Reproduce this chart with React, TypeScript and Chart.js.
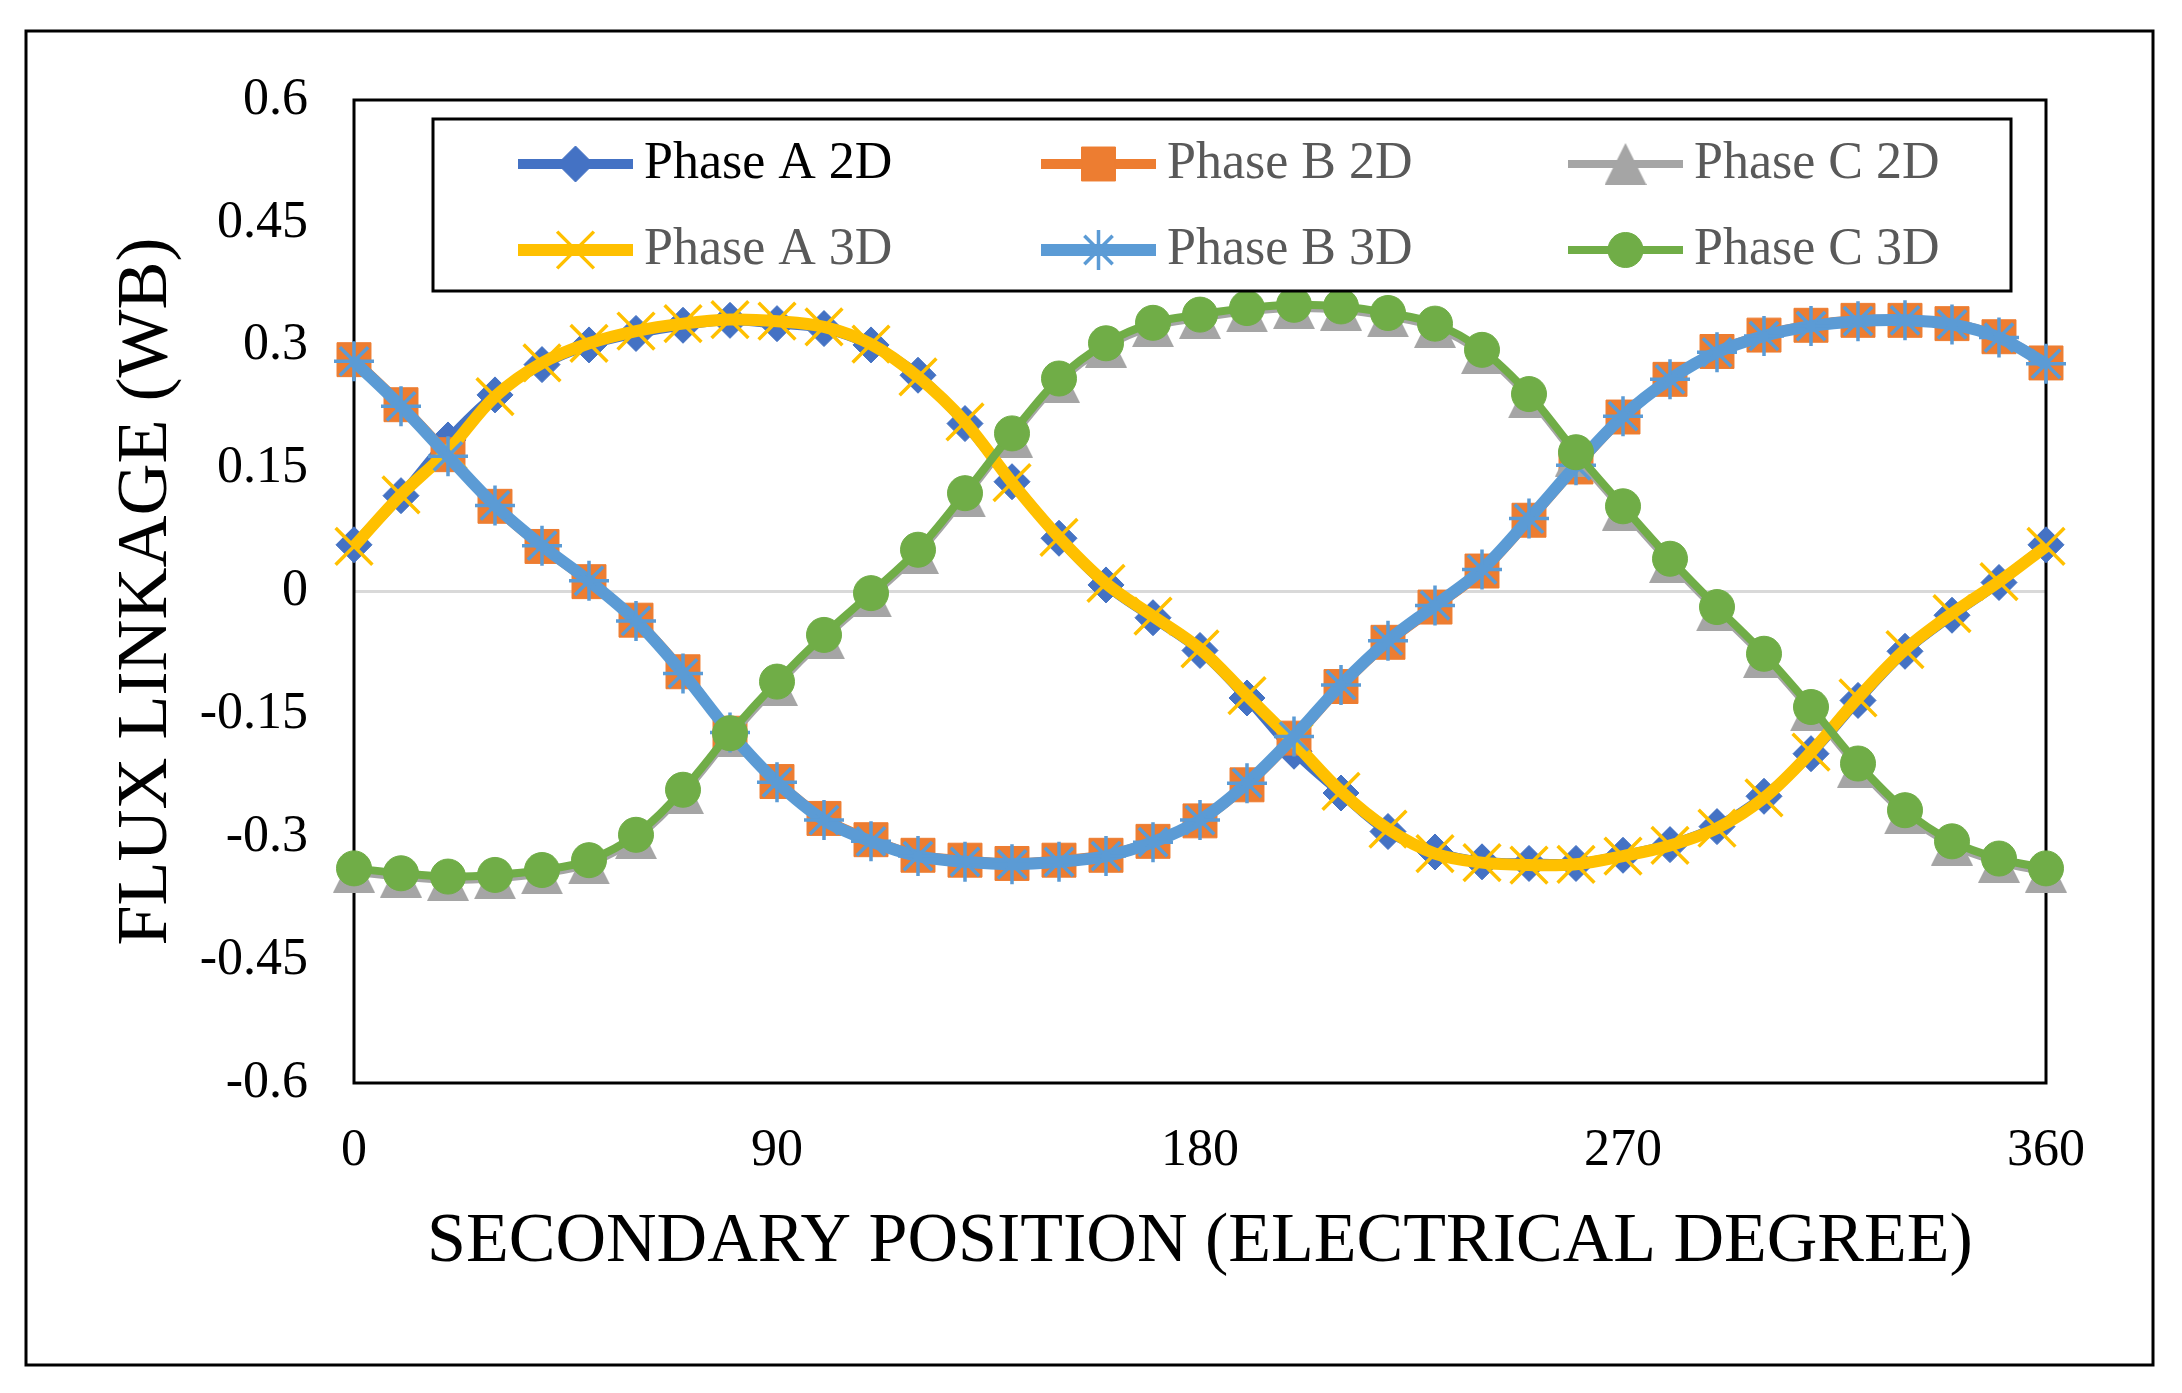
import React, { useEffect, useRef } from 'react';
import { Chart, registerables } from 'chart.js';
import { drawPoint } from 'chart.js/helpers';

Chart.register(...registerables);

// ---- data (secondary position in electrical degrees, flux linkage in Wb) ----
const positions = [0, 10, 20, 30, 40, 50, 60, 70, 80, 90, 100, 110, 120, 130, 140, 150, 160, 170, 180,
  190, 200, 210, 220, 230, 240, 250, 260, 270, 280, 290, 300, 310, 320, 330, 340, 350, 360];

const phaseA2D = [0.057, 0.117, 0.185, 0.240, 0.277, 0.301, 0.315, 0.325, 0.331, 0.327, 0.321, 0.301, 0.264,
  0.205, 0.134, 0.065, 0.008, -0.032, -0.072, -0.130, -0.195, -0.246, -0.293, -0.318, -0.330, -0.332, -0.332,
  -0.322, -0.309, -0.287, -0.250, -0.198, -0.133, -0.073, -0.029, 0.011, 0.057];

const phaseB2D = [0.283, 0.228, 0.167, 0.104, 0.055, 0.012, -0.035, -0.098, -0.173, -0.232, -0.277, -0.303,
  -0.322, -0.328, -0.332, -0.328, -0.322, -0.305, -0.280, -0.236, -0.179, -0.116, -0.062, -0.019, 0.025, 0.087,
  0.152, 0.213, 0.259, 0.293, 0.313, 0.325, 0.331, 0.331, 0.327, 0.311, 0.279];

const phaseC2D = [-0.342, -0.348, -0.352, -0.350, -0.344, -0.332, -0.301, -0.246, -0.177, -0.114, -0.057,
  -0.006, 0.047, 0.116, 0.189, 0.256, 0.299, 0.324, 0.334, 0.342, 0.346, 0.344, 0.336, 0.323, 0.291, 0.237,
  0.166, 0.100, 0.036, -0.023, -0.080, -0.145, -0.214, -0.271, -0.309, -0.330, -0.342];

const phaseA3D = [0.055, 0.118, 0.172, 0.238, 0.279, 0.303, 0.318, 0.327, 0.332, 0.330, 0.323, 0.302, 0.262,
  0.207, 0.133, 0.066, 0.010, -0.030, -0.070, -0.127, -0.184, -0.244, -0.290, -0.320, -0.331, -0.334, -0.333,
  -0.323, -0.310, -0.289, -0.252, -0.196, -0.130, -0.071, -0.027, 0.012, 0.055];

const phaseB3D = [0.281, 0.226, 0.165, 0.105, 0.056, 0.013, -0.036, -0.100, -0.172, -0.233, -0.279, -0.305,
  -0.323, -0.330, -0.333, -0.330, -0.323, -0.306, -0.279, -0.234, -0.177, -0.114, -0.060, -0.017, 0.027, 0.089,
  0.154, 0.214, 0.259, 0.292, 0.312, 0.324, 0.330, 0.331, 0.326, 0.310, 0.278];

const phaseC3D = [-0.338, -0.344, -0.348, -0.346, -0.340, -0.328, -0.297, -0.242, -0.173, -0.110, -0.053,
  -0.002, 0.051, 0.120, 0.193, 0.260, 0.303, 0.328, 0.338, 0.346, 0.350, 0.348, 0.340, 0.327, 0.295, 0.241,
  0.170, 0.104, 0.040, -0.019, -0.076, -0.141, -0.210, -0.267, -0.305, -0.326, -0.338];

const seriesNames = ['Phase A 2D', 'Phase B 2D', 'Phase C 2D', 'Phase A 3D', 'Phase B 3D', 'Phase C 3D'];
const xTicks = [0, 90, 180, 270, 360];
const xTickLabels = ['0', '90', '180', '270', '360'];
const yTicks = [0.6, 0.45, 0.3, 0.15, 0, -0.15, -0.3, -0.45, -0.6];
const yTickLabels = ['0.6', '0.45', '0.3', '0.15', '0', '-0.15', '-0.3', '-0.45', '-0.6'];
const xTitle = 'SECONDARY POSITION (ELECTRICAL DEGREE)';
const yTitle = 'FLUX LINKAGE (WB)';

const FONT = '"Liberation Serif", "Times New Roman", serif';

function makeTriangle(size: number, color: string): HTMLCanvasElement {
  const c = document.createElement('canvas');
  c.width = size;
  c.height = size;
  const g = c.getContext('2d')!;
  g.fillStyle = color;
  g.beginPath();
  g.moveTo(size / 2, 0);
  g.lineTo(size, size);
  g.lineTo(0, size);
  g.closePath();
  g.fill();
  return c;
}

const framePlugin = {
  id: 'frame',
  beforeDraw(chart: any) {
    const ctx = chart.ctx;
    ctx.save();
    ctx.fillStyle = '#ffffff';
    ctx.fillRect(0, 0, chart.width, chart.height);
    ctx.strokeStyle = '#000000';
    ctx.lineWidth = 3;
    ctx.strokeRect(26, 31, 2127, 1334);
    ctx.restore();
  },
  beforeDatasetsDraw(chart: any) {
    const { ctx, chartArea } = chart;
    ctx.save();
    ctx.strokeStyle = '#000000';
    ctx.lineWidth = 3;
    ctx.strokeRect(chartArea.left, chartArea.top, chartArea.right - chartArea.left, chartArea.bottom - chartArea.top);
    ctx.restore();
  },
};

const legendPlugin = {
  id: 'boxLegend',
  afterDatasetsDraw(chart: any) {
    const ctx = chart.ctx;
    ctx.save();
    ctx.fillStyle = '#ffffff';
    ctx.fillRect(433, 119, 1578, 172);
    ctx.strokeStyle = '#000000';
    ctx.lineWidth = 3;
    ctx.strokeRect(433, 119, 1578, 172);
    const cols = [518, 1041, 1568];
    const rows = [164, 250];
    const lineLen = 115;
    chart.data.datasets.forEach((ds: any, i: number) => {
      const x0 = cols[i % 3];
      const y = rows[Math.floor(i / 3)];
      ctx.strokeStyle = ds.borderColor;
      ctx.lineWidth = ds.borderWidth;
      ctx.lineCap = 'butt';
      ctx.beginPath();
      ctx.moveTo(x0, y);
      ctx.lineTo(x0 + lineLen, y);
      ctx.stroke();
      ctx.fillStyle = ds.pointBackgroundColor;
      ctx.strokeStyle = ds.pointBorderColor;
      ctx.lineWidth = ds.pointBorderWidth;
      drawPoint(ctx, { pointStyle: ds.pointStyle, radius: ds.pointRadius, rotation: 0, borderWidth: ds.pointBorderWidth } as any, x0 + lineLen / 2, y);
      ctx.font = `52px ${FONT}`;
      ctx.fillStyle = i === 0 ? '#000000' : '#595959';
      ctx.textBaseline = 'middle';
      ctx.textAlign = 'left';
      ctx.fillText(ds.label, x0 + lineLen + 11, y);
    });
    ctx.restore();
  },
};

export default function App() {
  const canvasRef = useRef<HTMLCanvasElement | null>(null);

  useEffect(() => {
    document.body.style.margin = '0';
    document.body.style.overflow = 'hidden';
    const canvas = canvasRef.current;
    if (!canvas) return;

    const triangle = makeTriangle(42, '#A5A5A5');

    const mk = (label: string, values: number[], color: string, width: number, pointStyle: any,
      radius: number, filled: boolean, order: number, pbw: number) => ({
      label,
      data: positions.map((x, i) => ({ x, y: values[i] })),
      borderColor: color,
      backgroundColor: color,
      borderWidth: width,
      pointStyle,
      pointRadius: radius,
      pointHoverRadius: radius,
      pointBackgroundColor: filled ? color : 'rgba(0,0,0,0)',
      pointBorderColor: color,
      pointBorderWidth: pbw,
      tension: 0.35,
      clip: false as any,
      order,
      fill: false,
    });

    const datasets = [
      mk(seriesNames[0], phaseA2D, '#4472C4', 10, 'rectRot', 18, true, 6, 1),
      mk(seriesNames[1], phaseB2D, '#ED7D31', 10, 'rect', 24, true, 5, 1),
      mk(seriesNames[2], phaseC2D, '#A5A5A5', 8, triangle, 21, true, 4, 1),
      mk(seriesNames[3], phaseA3D, '#FFC000', 12, 'crossRot', 26, false, 3, 3.5),
      mk(seriesNames[4], phaseB3D, '#5B9BD5', 12, 'star', 20, false, 2, 3.5),
      mk(seriesNames[5], phaseC3D, '#70AD47', 8, 'circle', 17.5, true, 1, 1),
    ];

    Chart.defaults.font.family = FONT;
    Chart.defaults.color = '#000000';

    const chart = new Chart(canvas, {
      type: 'line',
      data: { datasets },
      options: {
        responsive: false,
        animation: false,
        events: [],
        layout: { padding: { top: 100, right: 136, bottom: 0, left: 0 } },
        plugins: { legend: { display: false }, tooltip: { enabled: false } },
        scales: {
          x: {
            type: 'linear',
            min: 0,
            max: 360,
            afterBuildTicks: (scale: any) => {
              scale.ticks = xTicks.map((v) => ({ value: v }));
            },
            afterFit: (scale: any) => {
              scale.height = 310;
            },
            ticks: {
              font: { size: 52, family: FONT },
              color: '#000000',
              padding: 37,
              maxRotation: 0,
              autoSkip: false,
              callback: (v: any) => {
                const idx = xTicks.indexOf(Number(v));
                return idx >= 0 ? xTickLabels[idx] : '';
              },
            },
            grid: { display: false, drawTicks: false },
            border: { display: false },
            title: {
              display: true,
              text: xTitle,
              font: { size: 70, family: FONT },
              color: '#000000',
              padding: { top: 0, bottom: 108 },
            },
          },
          y: {
            type: 'linear',
            min: -0.6,
            max: 0.6,
            afterBuildTicks: (scale: any) => {
              scale.ticks = yTicks.slice().reverse().map((v) => ({ value: v }));
            },
            afterFit: (scale: any) => {
              scale.width = 354;
            },
            ticks: {
              font: { size: 52, family: FONT },
              color: '#000000',
              padding: 46,
              autoSkip: false,
              callback: (v: any) => {
                const idx = yTicks.findIndex((t) => Math.abs(t - Number(v)) < 1e-9);
                return idx >= 0 ? yTickLabels[idx] : '';
              },
            },
            grid: {
              drawTicks: false,
              lineWidth: 3,
              color: (c: any) => (c.tick && Math.abs(c.tick.value) < 1e-9 ? '#D9D9D9' : 'rgba(0,0,0,0)'),
            },
            border: { display: false },
            title: {
              display: true,
              text: yTitle,
              font: { size: 72, family: FONT },
              color: '#000000',
              padding: { top: 104, bottom: 0 },
            },
          },
        },
      },
      plugins: [framePlugin, legendPlugin],
    } as any);

    return () => {
      chart.destroy();
    };
  }, []);

  return (
    <div style={{ width: 2182, height: 1393, position: 'relative', overflow: 'hidden', background: '#fff' }}>
      <canvas ref={canvasRef} width={2182} height={1393} style={{ display: 'block', width: 2182, height: 1393 }} />
    </div>
  );
}
